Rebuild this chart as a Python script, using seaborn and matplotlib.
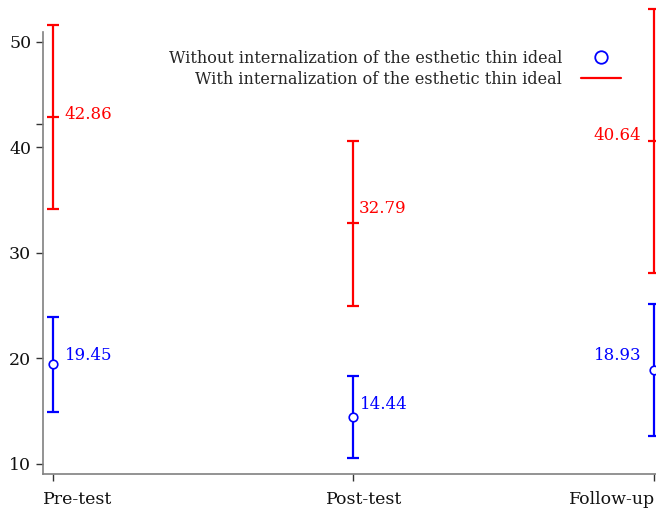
import numpy as np
import pandas as pd
import matplotlib
matplotlib.use('Agg')
import matplotlib.pyplot as plt
import matplotlib.transforms as mtransforms
import seaborn as sns
from matplotlib.lines import Line2D

# data
phases = ['Pre-test', 'Post-test', 'Follow-up']
without_mean = [19.45, 14.44, 18.93]
without_err = [4.5, 3.9, 6.25]
with_mean = [42.86, 32.79, 40.64]
with_err = [8.7, 7.85, 12.5]

lbl_without = 'Without internalization of the esthetic thin ideal'
lbl_with = 'With internalization of the esthetic thin ideal'

sns.set_theme(style='white')
plt.rcParams['font.family'] = ['DejaVu Serif', 'DejaVu Sans']

df = pd.DataFrame({
    'phase': phases * 2,
    'mean': without_mean + with_mean,
    'err': without_err + with_err,
    'group': [lbl_without] * 3 + [lbl_with] * 3,
})

fig = plt.figure(figsize=(6.56, 5.13), dpi=100)
ax = fig.add_axes([0.0655, 0.076, 0.9345, 0.862])

wo = df[df.group == lbl_without]
wi = df[df.group == lbl_with]

# error bars
ax.errorbar(wi['phase'], wi['mean'], yerr=wi['err'], fmt='none', ecolor='red',
            elinewidth=1.6, capsize=4.3, capthick=1.6, clip_on=False)
ax.errorbar(wo['phase'], wo['mean'], yerr=wo['err'], fmt='none', ecolor='blue',
            elinewidth=1.6, capsize=4.3, capthick=1.6, clip_on=False)

# markers
sns.scatterplot(data=wo, x='phase', y='mean', ax=ax, marker='o', s=38,
                facecolor='white', edgecolor='blue', linewidth=1.2,
                zorder=5, clip_on=False, legend=False)
ax.plot(wi['phase'], wi['mean'], linestyle='none', marker='_', markersize=8.6,
        markeredgewidth=1.6, color='red', clip_on=False, zorder=5)

# value labels
offs_wo = [(9, 6), (5, 9), (-9, 10)]
offs_wi = [(8, 2), (4, 11), (-9, 4)]
for i, (p, m) in enumerate(zip(phases, without_mean)):
    ha = 'right' if i == 2 else 'left'
    ax.annotate(f'{m:.2f}', (p, m), xytext=offs_wo[i], textcoords='offset points',
                color='blue', fontsize=12, ha=ha, va='center', annotation_clip=False)
for i, (p, m) in enumerate(zip(phases, with_mean)):
    ha = 'right' if i == 2 else 'left'
    ax.annotate(f'{m:.2f}', (p, m), xytext=offs_wi[i], textcoords='offset points',
                color='red', fontsize=12, ha=ha, va='center', annotation_clip=False)

ax.set_xlim(-0.033, 2.007)
ax.set_ylim(9.05, 50.95)
ax.set_yticks([10, 20, 30, 40, 50])
ax.set_yticks([42.2], minor=True)
ax.set_xlabel('')
ax.set_ylabel('')
ax.tick_params(axis='both', which='both', direction='out', length=5, width=1,
               color='#333333', labelsize=12.5, labelcolor='#111111', left=True, bottom=True)
ax.tick_params(axis='x', pad=7)
for s in ['top', 'right']:
    ax.spines[s].set_visible(False)
for s in ['left', 'bottom']:
    ax.spines[s].set_color('#808080')
    ax.spines[s].set_linewidth(1.2)

# x tick labels sit a bit off their ticks in the original
shifts = [(-10, 'left'), (-27, 'left'), (1, 'right')]
for lab, (dx, ha) in zip(ax.get_xticklabels(), shifts):
    lab.set_horizontalalignment(ha)
    lab.set_transform(lab.get_transform() + mtransforms.ScaledTranslation(dx / 100, 0, fig.dpi_scale_trans))

# legend
handles = [
    Line2D([], [], linestyle='none', marker='o', markersize=9, markerfacecolor='white',
           markeredgecolor='blue', markeredgewidth=1.3),
    Line2D([], [], color='red', linewidth=1.6),
]
ax.legend(handles, [lbl_without, lbl_with], loc='upper right', bbox_to_anchor=(0.967, 0.992),
          frameon=False, markerfirst=False, fontsize=11.5, handlelength=2.5,
          labelspacing=0.25, handletextpad=1.2)

fig.savefig('out.png', dpi=100)
